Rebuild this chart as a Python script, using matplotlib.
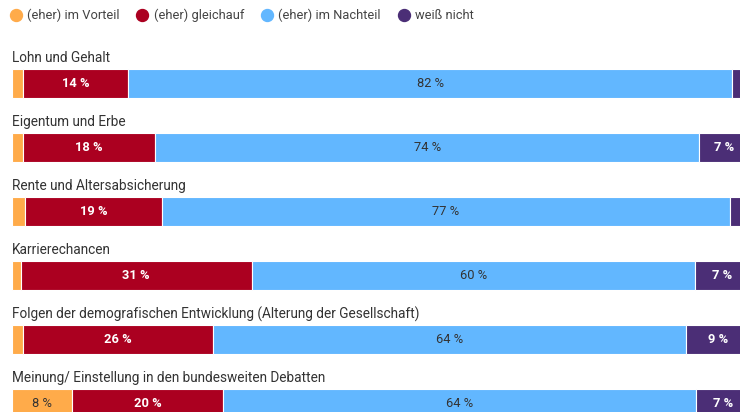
import matplotlib.pyplot as plt
from matplotlib.lines import Line2D
import numpy as np

plt.rcParams["font.family"] = ["Roboto", "DejaVu Sans"]

categories = [
    "Lohn und Gehalt",
    "Eigentum und Erbe",
    "Rente und Altersabsicherung",
    "Karrierechancen",
    "Folgen der demografischen Entwicklung (Alterung der Gesellschaft)",
    "Meinung/ Einstellung in den bundesweiten Debatten",
]
series_names = ["(eher) im Vorteil", "(eher) gleichauf", "(eher) im Nachteil", "weiß nicht"]
vorteil = [1.5, 1.5, 1.8, 1.2, 1.5, 8.2]
gleichauf = [14.3, 18.0, 18.6, 31.4, 25.8, 20.5]
nachteil = [82.2, 74.0, 77.3, 60.3, 64.4, 64.3]
weiss_nicht = [2.0, 6.8, 2.3, 7.4, 8.6, 7.4]

colors = ["#ffab4a", "#ab0020", "#62b7ff", "#4b2e76"]
text_colors = ["#333333", "white", "#333333", "white"]

W, H = 740, 412
fig = plt.figure(figsize=(W / 100, H / 100), dpi=100)
# axes in pixel-like units: x data 0..100 spans 12..747 px (cropped at right)
ax = fig.add_axes([12 / W, 0, 735 / W, 1])
ax.set_xlim(0, 100)
ax.set_ylim(H, 0)
ax.axis("off")

bar_h = 29
row_gap = 64
first_top = 69
centers = np.array([first_top + bar_h / 2 + row_gap * i for i in range(len(categories))])

series = [vorteil, gleichauf, nachteil, weiss_nicht]
left = np.zeros(len(categories))
for vals, col, tcol in zip(series, colors, text_colors):
    vals = np.array(vals)
    ax.barh(centers, vals, left=left, height=bar_h, color=col,
            edgecolor="white", linewidth=0.8)
    for c, l, v in zip(centers, left, vals):
        if v >= 5:
            ax.text(l + v / 2, c, f"{round(v)} %", ha="center", va="center",
                    fontsize=9.3, color=tcol,
                    fontweight="bold" if tcol == "white" else "normal")
    left += vals

for c, name in zip(centers, categories):
    ax.text(0, c - bar_h / 2 - 11, name, ha="left", va="center",
            fontsize=9.8, color="#333333")

handles = [Line2D([], [], marker="o", linestyle="", markersize=8.6,
                  markerfacecolor=col, markeredgecolor=col) for col in colors]
fig.legend(handles, series_names, loc="upper left", bbox_to_anchor=(0.0, 1.0),
           ncol=4, frameon=False, fontsize=9.3, handletextpad=0.4,
           columnspacing=1.25, borderaxespad=0.35, labelcolor="#444444",
           handlelength=1.0, borderpad=0.35)

fig.savefig("out.png", dpi=100)
